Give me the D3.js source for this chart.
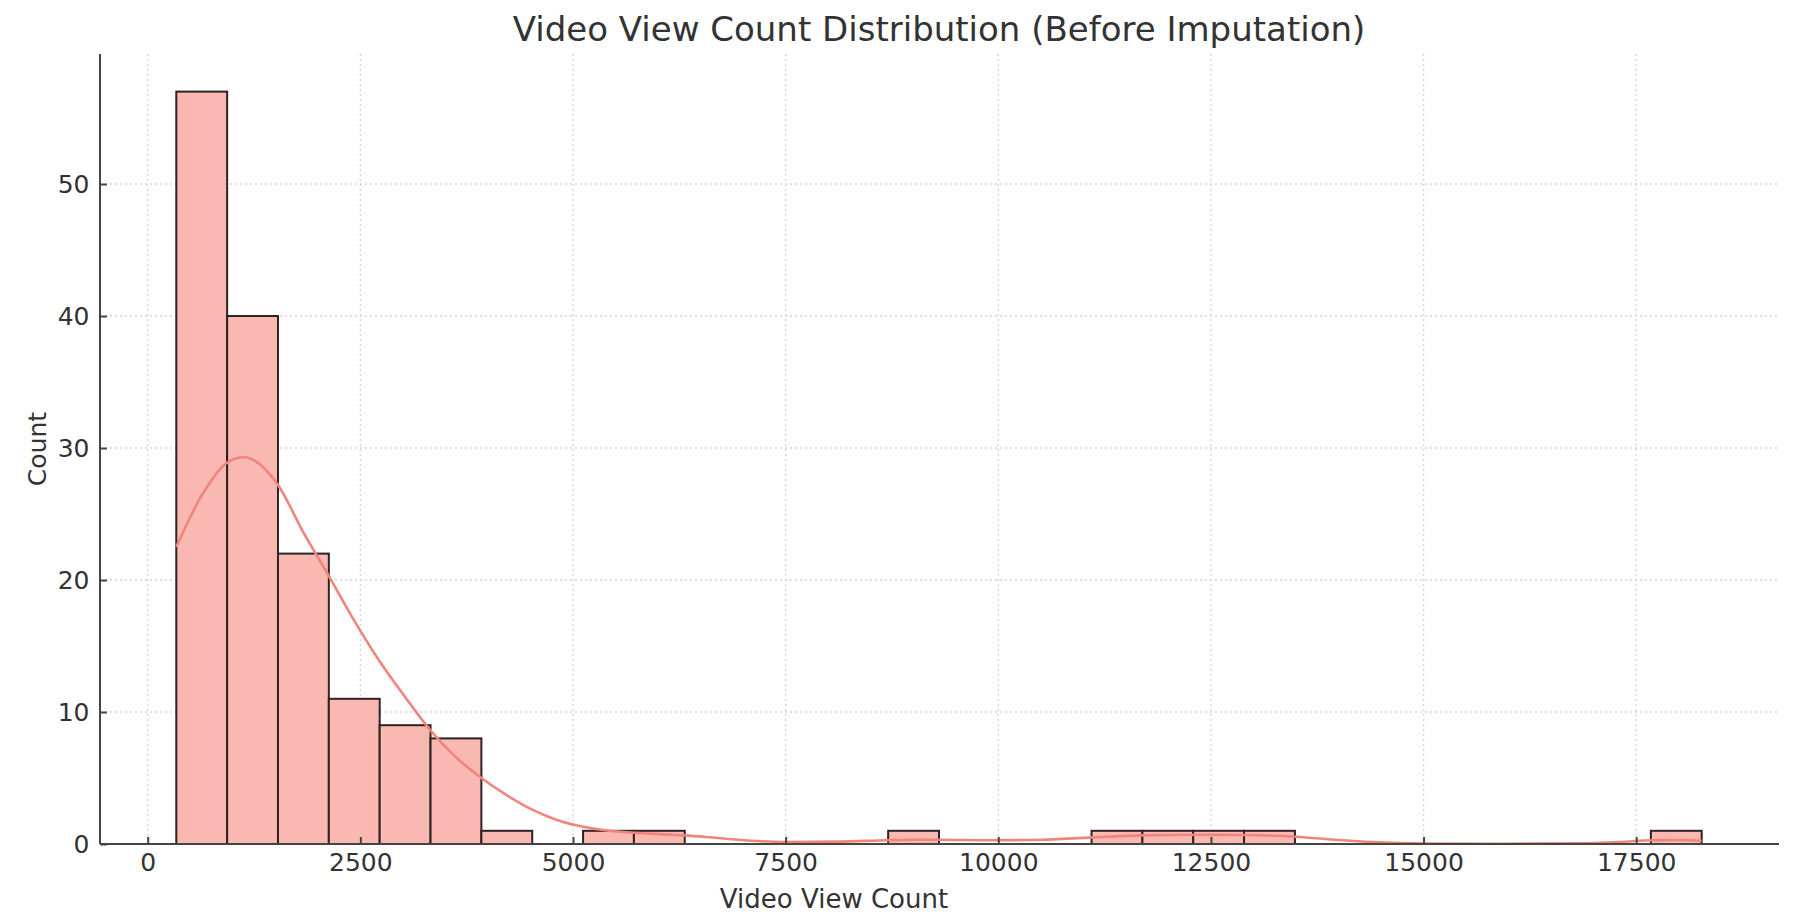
<!DOCTYPE html>
<html>
<head>
<meta charset="utf-8">
<script src="https://cdn.jsdelivr.net/npm/d3@7"></script>
<style>
    body { margin: 0; background: #fff; }
    text { font-family: "DejaVu Sans", sans-serif; fill: #333; }
    .axis path, .axis line { stroke: #444; stroke-width: 2; }
    .grid line { stroke: #d4d4d4; stroke-width: 1.3; stroke-dasharray: 2,3; }
</style>
</head>
<body>
<div id="chart"></div>
<script>
// histogram bin edges (video view count) and counts per bin
var binEdges = [336, 933.8, 1531.6, 2129.4, 2727.2, 3325, 3922.8, 4520.6, 5118.4, 5716.2,
    6314, 6911.8, 7509.6, 8107.4, 8705.2, 9303, 9900.8, 10498.6, 11096.4, 11694.2,
    12292, 12889.8, 13487.6, 14085.4, 14683.2, 15281, 15878.8, 16476.6, 17074.4, 17672.2, 18270];
var binCounts = [57, 40, 22, 11, 9, 8, 1, 0, 1, 1, 0, 0, 0, 0, 1, 0, 0, 0, 1, 1,
    1, 1, 0, 0, 0, 0, 0, 0, 0, 1];

// kde curve (view count, count)
var kdeX = [336, 634, 934, 1130, 1532, 1830, 2130, 2430, 2730, 3030, 3325, 3620, 3923,
    4220, 4520, 4820, 5120, 5420, 5720, 6020, 6314, 6700, 7100, 7500, 8100, 8700, 9000,
    9300, 9900, 10500, 11100, 11700, 12300, 12900, 13500, 14000, 14500, 15000, 16000,
    16800, 17300, 17700, 18000, 18270];
var kdeY = [22.5, 26.4, 28.9, 29.3, 27.2, 23.6, 20.3, 16.9, 13.8, 11.1, 8.6, 6.6, 5.0,
    3.7, 2.6, 1.8, 1.3, 1.0, 0.85, 0.75, 0.65, 0.45, 0.25, 0.15, 0.18, 0.28, 0.32,
    0.32, 0.28, 0.32, 0.5, 0.65, 0.7, 0.68, 0.55, 0.3, 0.12, 0.04, 0.02,
    0.05, 0.15, 0.28, 0.3, 0.25];

var xTicks = [0, 2500, 5000, 7500, 10000, 12500, 15000, 17500];
var yTicks = [0, 10, 20, 30, 40, 50];

var title = "Video View Count Distribution (Before Imputation)";
var xLabel = "Video View Count";
var yLabel = "Count";

var W = 1805, H = 914;
var plotLeft = 100, plotRight = 1778, plotTop = 54, plotBottom = 844;

var svg = d3.select("#chart").append("svg")
    .attr("width", W)
    .attr("height", H);

var x = d3.scaleLinear()
    .domain([-561, 19167])
    .range([plotLeft, plotRight]);

var y = d3.scaleLinear()
    .domain([0, 59.85])
    .range([plotBottom, plotTop]);

// grid
var grid = svg.append("g").attr("class", "grid");
grid.selectAll(".vg")
    .data(xTicks)
    .enter().append("line")
    .attr("class", "vg")
    .attr("x1", d => x(d)).attr("x2", d => x(d))
    .attr("y1", plotTop).attr("y2", plotBottom);
grid.selectAll(".hg")
    .data(yTicks.slice(1))
    .enter().append("line")
    .attr("class", "hg")
    .attr("x1", plotLeft).attr("x2", plotRight)
    .attr("y1", d => y(d)).attr("y2", d => y(d));

// bars
var bins = binCounts.map(function (c, i) {
    return { x0: binEdges[i], x1: binEdges[i + 1], count: c };
}).filter(d => d.count > 0);

svg.append("g").selectAll("rect")
    .data(bins)
    .enter().append("rect")
    .attr("x", d => x(d.x0))
    .attr("width", d => x(d.x1) - x(d.x0))
    .attr("y", d => y(d.count))
    .attr("height", d => y(0) - y(d.count))
    .attr("fill", "#f9b8b2")
    .attr("stroke", "#2e2222")
    .attr("stroke-width", 2);

// kde line
var kde = kdeX.map((v, i) => ({ v: v, c: kdeY[i] }));
var kdeLine = d3.line()
    .x(d => x(d.v))
    .y(d => y(d.c))
    .curve(d3.curveMonotoneX);

svg.append("path")
    .datum(kde)
    .attr("d", kdeLine)
    .attr("fill", "none")
    .attr("stroke", "#ef857b")
    .attr("stroke-width", 2.6);

// axes
var xAxis = svg.append("g")
    .attr("class", "axis")
    .attr("transform", "translate(0," + plotBottom + ")")
    .call(d3.axisBottom(x).tickValues(xTicks).tickFormat(d3.format("d"))
        .tickSize(-7).tickSizeOuter(0).tickPadding(9));
xAxis.selectAll("text").style("font-size", "25px");

var yAxis = svg.append("g")
    .attr("class", "axis")
    .attr("transform", "translate(" + plotLeft + ",0)")
    .call(d3.axisLeft(y).tickValues(yTicks).tickSize(-7).tickSizeOuter(0).tickPadding(10.5));
yAxis.selectAll("text").style("font-size", "25px");

// spines span the whole plot box
xAxis.select(".domain").attr("d", "M" + plotLeft + ",0H" + (plotRight + 1));
yAxis.select(".domain").attr("d", "M0," + plotBottom + "V" + plotTop);

// titles
svg.append("text")
    .attr("x", 939)
    .attr("y", 41)
    .attr("text-anchor", "middle")
    .style("font-size", "34px")
    .text(title);

svg.append("text")
    .attr("x", 834)
    .attr("y", 908)
    .attr("text-anchor", "middle")
    .style("font-size", "26px")
    .text(xLabel);

svg.append("text")
    .attr("transform", "translate(46,449) rotate(-90)")
    .attr("text-anchor", "middle")
    .style("font-size", "25px")
    .text(yLabel);
</script>
</body>
</html>
